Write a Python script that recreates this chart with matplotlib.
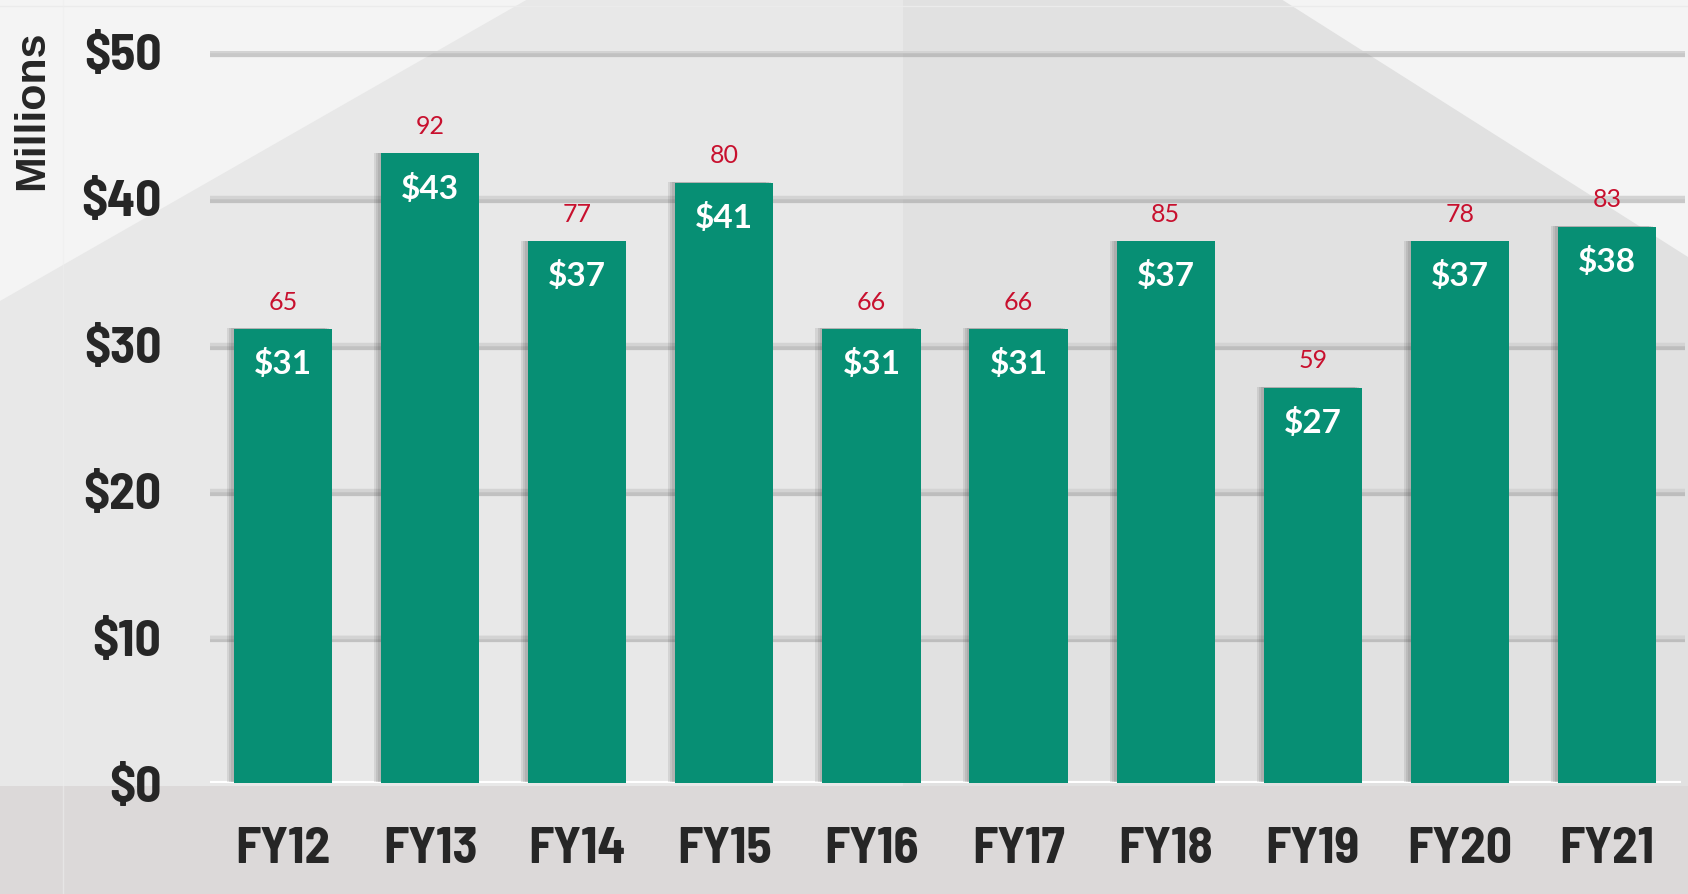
import matplotlib
matplotlib.use("Agg")
import matplotlib.pyplot as plt
import matplotlib.patheffects as pe
from matplotlib.patches import Polygon, Rectangle

years = ["FY12", "FY13", "FY14", "FY15", "FY16", "FY17", "FY18", "FY19", "FY20", "FY21"]
dollars = [31, 43, 37, 41, 31, 31, 37, 27, 37, 38]
counts = [65, 92, 77, 80, 66, 66, 85, 59, 78, 83]
yticks = [0, 10, 20, 30, 40, 50]
ytick_labels = ["$0", "$10", "$20", "$30", "$40", "$50"]

W, H = 1688, 895
green = "#078F74"
red = "#C8102E"
dark = "#262626"
narrow = ["Barlow Semi Condensed", "DejaVu Sans"]

fig = plt.figure(figsize=(W / 100, H / 100), dpi=100)

# background shapes, in pixel coords
bg = fig.add_axes([0, 0, 1, 1])
bg.set_xlim(0, W)
bg.set_ylim(H, 0)
bg.axis("off")
bg.add_patch(Rectangle((0, 0), W, H, color="#F4F4F4", lw=0))
bg.add_patch(Polygon([(0, 302), (528, 0), (903, 0), (903, 787), (0, 787)], color="#E8E8E8", lw=0))
bg.add_patch(Polygon([(903, 0), (1281, 0), (W, 258), (W, 787), (903, 787)], color="#E1E1E1", lw=0))
bg.add_patch(Rectangle((0, 787), W, H - 787, color="#DCD9D9", lw=0))
bg.plot([0, W], [7, 7], color="#EBEBEB", lw=1)
bg.plot([63, 63], [0, H], color="#EEEEEE", lw=1, alpha=0.6)

ax = fig.add_axes([210 / W, 1 - 784 / H, 1475 / W, 732 / H])
ax.patch.set_alpha(0)
x = list(range(len(years)))

# gridlines with a soft shadow under them
for t in yticks[1:]:
    ax.axhline(t, color="#D3D3D3", lw=2.5, zorder=1,
               path_effects=[pe.SimpleLineShadow(offset=(0, -2), shadow_color="#888888", alpha=0.4, linewidth=4.5),
                             pe.Normal()])
ax.plot([-0.5, 9.5], [0, 0], color="white", lw=3, zorder=2, solid_capstyle="butt")

# fake a blurred shadow on the left with a few stacked offsets
shadow = [pe.SimplePatchShadow(offset=(-dx, 0.5), shadow_rgbFace="#444444", alpha=0.12) for dx in (5, 3.5, 2)]
bars = ax.bar(x, dollars, width=0.667, color=green, zorder=3)
for b in bars:
    b.set_path_effects(shadow + [pe.Normal()])

for i in x:
    ax.annotate(f"${dollars[i]}", (i, dollars[i]), xytext=(0, -24.5), textcoords="offset points",
                ha="center", va="center", color="white", fontsize=24, fontweight="bold",
                family=["Lato", "DejaVu Sans"], zorder=5)
    ax.annotate(str(counts[i]), (i, dollars[i]), xytext=(0, 20), textcoords="offset points",
                ha="center", va="center", color=red, fontsize=18,
                family=["Lato", "DejaVu Sans"], zorder=5)

ax.set_xlim(-0.496, 9.53)
ax.set_ylim(0, 50)
ax.set_xticks(x)
ax.set_xticklabels(years, fontsize=37, fontweight="bold", color=dark, family=narrow)
ax.set_yticks(yticks)
ax.set_yticklabels(ytick_labels, fontsize=37, fontweight="bold", color=dark, family=narrow)
ax.tick_params(axis="x", length=0, pad=31)
ax.tick_params(axis="y", length=0, pad=35)
for s in ax.spines.values():
    s.set_visible(False)

fig.text(32 / W, 1 - 110 / H, "Millions", rotation=90, ha="center", va="center",
         fontsize=31, fontweight="bold", color=dark, family=["Liberation Sans", "DejaVu Sans"])

fig.savefig("out.png", dpi=100)
